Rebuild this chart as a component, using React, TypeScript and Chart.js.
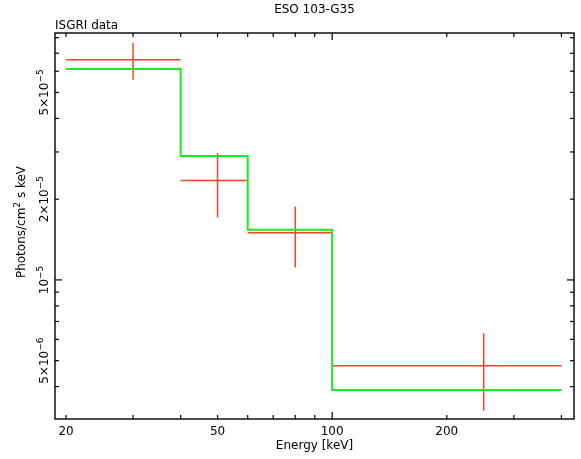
import React, { useEffect, useRef } from 'react';
import { Chart, registerables } from 'chart.js';

Chart.register(...registerables);

// ---- chart content ----
const TITLE = 'ESO 103-G35';
const SUBTITLE = 'ISGRI data';
const X_TITLE = 'Energy [keV]';
const Y_TITLE_PARTS = [
  { t: 'Photons/cm', sup: false },
  { t: '2', sup: true },
  { t: ' s keV', sup: false },
];

// energy bins (keV)
const binLo = [20, 40, 60, 100];
const binHi = [40, 60, 100, 400];
const binCenter = [30, 50, 80, 250];

// measured flux and its error range (photons/cm^2/s/keV)
const dataFlux = [6.62e-5, 2.35e-5, 1.5e-5, 4.79e-6];
const dataErrLow = [5.58e-5, 1.71e-5, 1.115e-5, 3.25e-6];
const dataErrHigh = [7.64e-5, 2.97e-5, 1.88e-5, 6.33e-6];

// model (step)
const modelFlux = [6.11e-5, 2.9e-5, 1.537e-5, 3.89e-6];

// axes
const X_MIN = 18.71;
const X_MAX = 431.6;
const Y_MIN = 3.03e-6;
const Y_MAX = 8.33e-5;

const xLabelValues = [20, 50, 100, 200];
const xLabelTexts = ['20', '50', '100', '200'];
const xMinorTicks = [20, 30, 40, 50, 60, 70, 80, 90, 200, 300, 400];
const xMajorTicks = [100];

const yLabelValues = [5e-5, 2e-5, 1e-5, 5e-6];
const yLabelMantissa = ['5×', '2×', '', '5×'];
const yLabelExponent = ['−5', '−5', '−5', '−6'];
const yMinorTicks = [4e-6, 5e-6, 6e-6, 7e-6, 8e-6, 9e-6, 2e-5, 3e-5, 4e-5, 5e-5, 6e-5, 7e-5, 8e-5];
const yMajorTicks = [1e-5];

const RED = 'rgb(255, 62, 38)';
const GREEN = 'rgb(20, 238, 30)';
const FONT = '"DejaVu Sans", sans-serif';
const FS = 12;

type Part = { t: string; sup: boolean };

function drawParts(ctx: CanvasRenderingContext2D, parts: Part[], x: number, y: number, size: number) {
  const supSize = Math.round(size * 0.72);
  let total = 0;
  const widths = parts.map((p) => {
    ctx.font = `${p.sup ? supSize : size}px ${FONT}`;
    const w = ctx.measureText(p.t).width;
    total += w;
    return w;
  });
  let cx = x - total / 2;
  ctx.textAlign = 'left';
  ctx.textBaseline = 'alphabetic';
  parts.forEach((p, i) => {
    ctx.font = `${p.sup ? supSize : size}px ${FONT}`;
    ctx.fillText(p.t, cx, p.sup ? y - size * 0.45 : y);
    cx += widths[i];
  });
}

const axesPlugin = {
  id: 'pgAxes',
  afterDatasetsDraw(chart: any) {
    const ctx: CanvasRenderingContext2D = chart.ctx;
    const { left, right, top, bottom } = chart.chartArea;
    const xs = chart.scales.x;
    const ys = chart.scales.y;
    ctx.save();
    ctx.strokeStyle = '#000';
    ctx.fillStyle = '#000';
    ctx.lineWidth = 1.4;
    ctx.strokeRect(left, top, right - left, bottom - top);

    ctx.lineWidth = 1.2;
    const tick = (x1: number, y1: number, x2: number, y2: number) => {
      ctx.beginPath();
      ctx.moveTo(x1, y1);
      ctx.lineTo(x2, y2);
      ctx.stroke();
    };
    xMinorTicks.forEach((v) => {
      const px = xs.getPixelForValue(v);
      tick(px, bottom, px, bottom - 4);
      tick(px, top, px, top + 4);
    });
    xMajorTicks.forEach((v) => {
      const px = xs.getPixelForValue(v);
      tick(px, bottom, px, bottom - 7);
      tick(px, top, px, top + 7);
    });
    yMinorTicks.forEach((v) => {
      const py = ys.getPixelForValue(v);
      tick(left, py, left + 4, py);
      tick(right, py, right - 4, py);
    });
    yMajorTicks.forEach((v) => {
      const py = ys.getPixelForValue(v);
      tick(left, py, left + 7, py);
      tick(right, py, right - 7, py);
    });

    // x labels
    ctx.font = `${FS}px ${FONT}`;
    ctx.textAlign = 'center';
    ctx.textBaseline = 'alphabetic';
    xLabelValues.forEach((v, i) => {
      const px = xs.getPixelForValue(v);
      ctx.fillText(xLabelTexts[i], px, bottom + 16);
    });
    ctx.fillText(X_TITLE, (left + right) / 2, bottom + 30);

    // y labels (rotated)
    yLabelValues.forEach((v, i) => {
      const py = ys.getPixelForValue(v);
      ctx.save();
      ctx.translate(left - 7, py);
      ctx.rotate(-Math.PI / 2);
      drawParts(
        ctx,
        [
          { t: yLabelMantissa[i] + '10', sup: false },
          { t: yLabelExponent[i], sup: true },
        ],
        0,
        0,
        FS
      );
      ctx.restore();
    });

    ctx.save();
    ctx.translate(25, (top + bottom) / 2 - 4);
    ctx.rotate(-Math.PI / 2);
    drawParts(ctx, Y_TITLE_PARTS, 0, 0, FS);
    ctx.restore();

    // titles
    ctx.font = `${FS}px ${FONT}`;
    ctx.textAlign = 'center';
    ctx.fillText(TITLE, (left + right) / 2, 13);
    ctx.textAlign = 'left';
    ctx.fillText(SUBTITLE, left, 29);
    ctx.restore();
  },
};

export default function App() {
  const ref = useRef<HTMLCanvasElement | null>(null);
  useEffect(() => {
    if (!ref.current) return;
    const n = binLo.length;
    const modelPts = binLo.map((x, i) => ({ x, y: modelFlux[i] }));
    modelPts.push({ x: binHi[n - 1], y: modelFlux[n - 1] });

    const dataPts: { x: number; y: number | null }[] = [];
    for (let i = 0; i < n; i++) {
      dataPts.push({ x: binLo[i], y: dataFlux[i] });
      dataPts.push({ x: binHi[i], y: dataFlux[i] });
      dataPts.push({ x: binHi[i], y: null });
      dataPts.push({ x: binCenter[i], y: dataErrLow[i] });
      dataPts.push({ x: binCenter[i], y: dataErrHigh[i] });
      dataPts.push({ x: binCenter[i], y: null });
    }

    const chart = new Chart(ref.current, {
      type: 'line',
      data: {
        datasets: [
          {
            label: 'model',
            data: modelPts as any,
            borderColor: GREEN,
            borderWidth: 2,
            pointRadius: 0,
            stepped: 'before',
            fill: false,
          },
          {
            label: 'data',
            data: dataPts as any,
            borderColor: RED,
            borderWidth: 1.5,
            pointRadius: 0,
            spanGaps: false,
            fill: false,
          },
        ],
      },
      options: {
        animation: false,
        responsive: false,
        parsing: true,
        layout: { padding: { left: 55, top: 33, right: 7, bottom: 40 } },
        plugins: { legend: { display: false }, tooltip: { enabled: false }, title: { display: false } },
        scales: {
          x: { type: 'logarithmic', min: X_MIN, max: X_MAX, display: false },
          y: { type: 'logarithmic', min: Y_MIN, max: Y_MAX, display: false },
        },
      },
      plugins: [axesPlugin],
    });
    return () => chart.destroy();
  }, []);
  return (
    <div style={{ position: 'absolute', left: 0, top: 0, width: 581, height: 459, background: '#fff' }}>
      <canvas ref={ref} width={581} height={459} style={{ width: 581, height: 459, display: 'block' }} />
    </div>
  );
}
